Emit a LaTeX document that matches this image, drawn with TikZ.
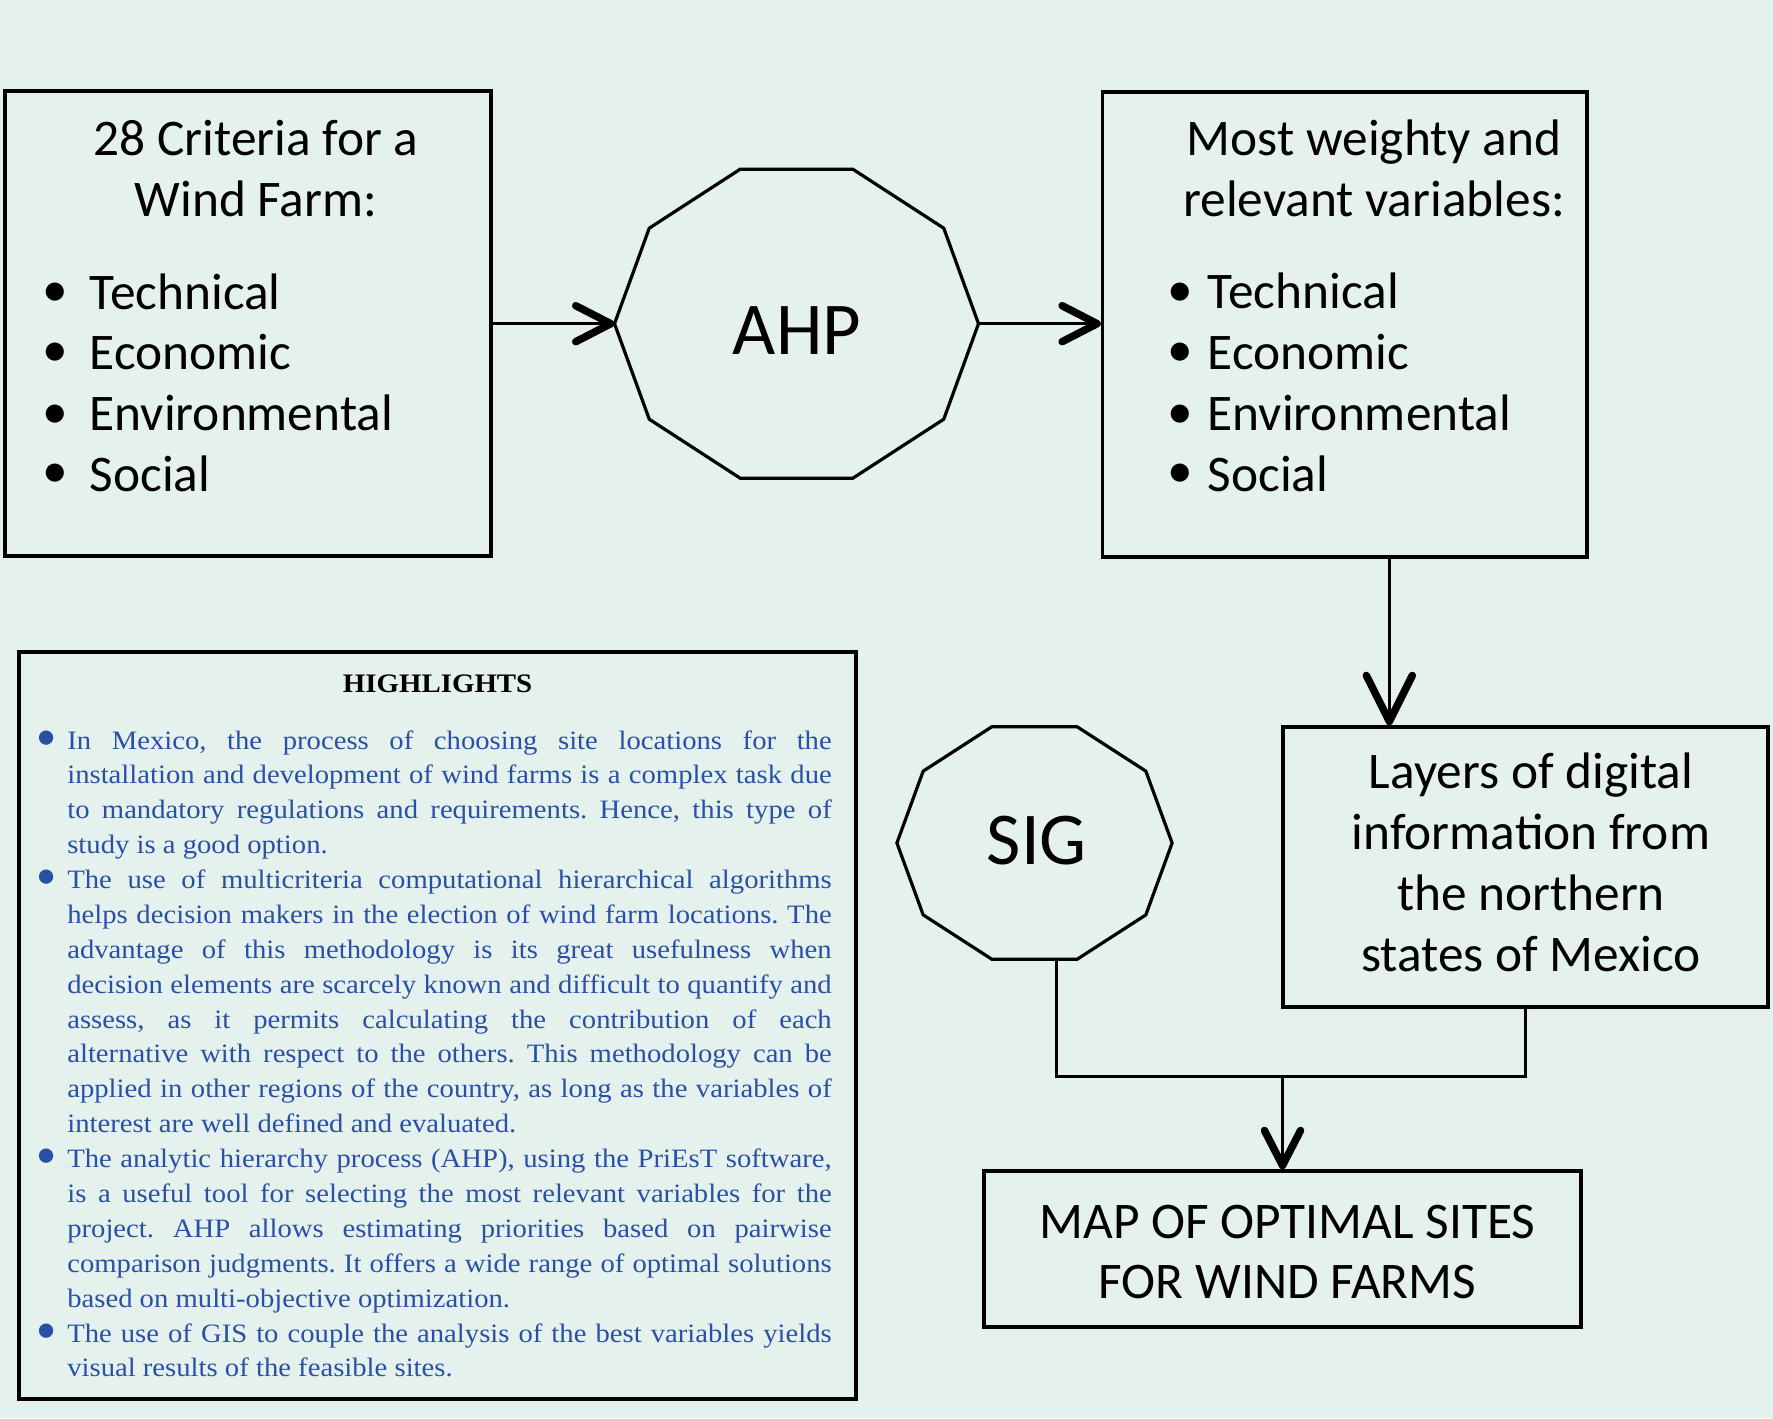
\documentclass[tikz,border=0pt]{standalone}
\usepackage{fontspec}
\setmainfont{Carlito}
\newfontfamily\hlfont[FakeStretch=1.08]{Liberation Serif}
\usetikzlibrary{arrows.meta}
\definecolor{bgc}{RGB}{228,241,236}
\definecolor{hlblue}{RGB}{42,80,165}
\newcommand\J[1]{\makebox[7.64cm][s]{#1}}
\frenchspacing
\tikzset{
  box/.style={draw, line width=0.034cm, inner sep=0pt},
  hlbox/.style={draw, line width=0.04cm, inner sep=0pt},
  poly/.style={draw, line width=0.032cm},
  conn/.style={line width=0.033cm},
  arr/.style={conn, -{Straight Barb[length=0.35cm, width=0.36cm, line width=0.075cm, round]}},
  arrbig/.style={conn, -{Straight Barb[length=0.46cm, width=0.46cm, line width=0.075cm, round]}},
  txt/.style={inner sep=0pt, font=\fontsize{14.6}{17}\selectfont, anchor=base},
  txtl/.style={txt, anchor=base west},
  bul/.style={inner sep=0pt, font=\fontsize{14.6}{17}\selectfont, anchor=center},
  big/.style={inner sep=0pt, font=\fontsize{21.2}{25}\selectfont, anchor=base},
  hl/.style={inner sep=0pt, font=\hlfont\fontsize{7.55}{9}\selectfont, text=hlblue, anchor=base west},
  hlb/.style={inner sep=0pt, font=\fontsize{11.5}{12}\selectfont, text=hlblue, anchor=center},
  hlt/.style={inner sep=0pt, font=\hlfont\bfseries\fontsize{7.6}{9}\selectfont, anchor=base}
}
\begin{document}
\begin{tikzpicture}[x=0.01cm,y=-0.01cm]
\fill[bgc] (0,0) rectangle (1773,1418);
\useasboundingbox (0,0) rectangle (1773,1418);

% boxes
\node[box, minimum width=4.86cm, minimum height=4.65cm] (box1) at (248,323.5) {};
\node[box, minimum width=4.843cm, minimum height=4.647cm] (box2) at (1344.85,324.35) {};
\node[box, minimum width=4.85cm, minimum height=2.80cm] (box3) at (1525.5,867) {};
\node[box, minimum width=5.97cm, minimum height=1.56cm] (box4) at (1282.5,1249) {};
\node[hlbox, minimum width=8.369cm, minimum height=7.459cm] (hlbox) at (437.75,1025.55) {};

% decagons
\draw[poly] plot[samples at={0,36,...,324}] ({796.5+182*cos(\x)},{323.7+162.5*sin(\x)}) -- cycle;
\draw[poly] plot[samples at={0,36,...,324}] ({1034.5+137.6*cos(\x)},{843+122.3*sin(\x)}) -- cycle;
\node[big] (ahp) at (797,354) {AHP};
\node[big] (sig) at (1037,864) {SIG};
\coordinate (ahpW) at (614.5,323.7);
\coordinate (ahpE) at (978.5,323.7);
\coordinate (sigS) at (1056.5,959.3);

% box1 text
\node[txt] (t1a) at (256,155) {28 Criteria for a};
\node[txt] (t1b) at (256,216.7) {Wind Farm:};
\node[bul] (b1a) at (55,295) {•};
\node[bul] (b1b) at (55,355) {•};
\node[bul] (b1c) at (55,416.7) {•};
\node[bul] (b1d) at (55,476) {•};
\node[txtl] (i1a) at (89,309) {Technical};
\node[txtl] (i1b) at (89,369.5) {Economic};
\node[txtl] (i1c) at (89,430.5) {Environmental};
\node[txtl] (i1d) at (89,491) {Social};

% box2 text
\node[txt] (t2a) at (1374,155) {Most weighty and};
\node[txt] (t2b) at (1374,216.7) {relevant variables:};
\node[bul] (b2a) at (1180,295) {•};
\node[bul] (b2b) at (1180,355) {•};
\node[bul] (b2c) at (1180,416.7) {•};
\node[bul] (b2d) at (1180,476) {•};
\node[txtl] (i2a) at (1207,308.5) {Technical};
\node[txtl] (i2b) at (1207,369) {Economic};
\node[txtl] (i2c) at (1207,430.5) {Environmental};
\node[txtl] (i2d) at (1207,491.5) {Social};

% box3 text
\node[txt] (t3a) at (1531,788.3) {Layers of digital};
\node[txt] (t3b) at (1531,849) {information from};
\node[txt] (t3c) at (1531,910) {the northern};
\node[txt] (t3d) at (1531,971) {states of Mexico};

% box4 text
\node[txt] (t4a) at (1287.5,1238.3) {MAP OF OPTIMAL SITES};
\node[txt] (t4b) at (1287.5,1298.3) {FOR WIND FARMS};

% highlights
\node[hlt] (hlt) at (437.6,692.7) {HIGHLIGHTS};
\node[hlb] (hb1) at (47,740) {•};
\node[hlb] (hb2) at (47,879.5) {•};
\node[hlb] (hb3) at (47,1158.6) {•};
\node[hlb] (hb4) at (47,1333) {•};
\node[hl] (h1) at (66.6,749.0) {\J{In Mexico, the process of choosing site locations for the}};
\node[hl] (h2) at (66.6,783.9) {\J{installation and development of wind farms is a complex task due}};
\node[hl] (h3) at (66.6,818.8) {\J{to mandatory regulations and requirements. Hence, this type of}};
\node[hl] (h4) at (66.6,853.6) {study is a good option.};
\node[hl] (h5) at (66.6,888.5) {\J{The use of multicriteria computational hierarchical algorithms}};
\node[hl] (h6) at (66.6,923.4) {\J{helps decision makers in the election of wind farm locations. The}};
\node[hl] (h7) at (66.6,958.3) {\J{advantage of this methodology is its great usefulness when}};
\node[hl] (h8) at (66.6,993.2) {\J{decision elements are scarcely known and difficult to quantify and}};
\node[hl] (h9) at (66.6,1028.0) {\J{assess, as it permits calculating the contribution of each}};
\node[hl] (h10) at (66.6,1062.9) {\J{alternative with respect to the others. This methodology can be}};
\node[hl] (h11) at (66.6,1097.8) {\J{applied in other regions of the country, as long as the variables of}};
\node[hl] (h12) at (66.6,1132.7) {interest are well defined and evaluated.};
\node[hl] (h13) at (66.6,1167.6) {\J{The analytic hierarchy process (AHP), using the PriEsT software,}};
\node[hl] (h14) at (66.6,1202.4) {\J{is a useful tool for selecting the most relevant variables for the}};
\node[hl] (h15) at (66.6,1237.3) {\J{project. AHP allows estimating priorities based on pairwise}};
\node[hl] (h16) at (66.6,1272.2) {\J{comparison judgments. It offers a wide range of optimal solutions}};
\node[hl] (h17) at (66.6,1307.1) {based on multi-objective optimization.};
\node[hl] (h18) at (66.6,1342.0) {\J{The use of GIS to couple the analysis of the best variables yields}};
\node[hl] (h19) at (66.6,1376.8) {visual results of the feasible sites.};

% connectors
\draw[arr] (box1.east |- ahpW) -- (ahpW);
\draw[arr] (ahpE) -- (ahpE -| box2.west);
\coordinate (d1) at (1389.3,600);
\draw[arrbig] (d1 |- box2.south) -- (d1 |- box3.north);
\coordinate (j) at (1282.5,1076.4);
\draw[conn] (sigS) |- (j) -| (box3.south);
\draw[arr] (j) -- (box4.north);
\end{tikzpicture}
\end{document}
